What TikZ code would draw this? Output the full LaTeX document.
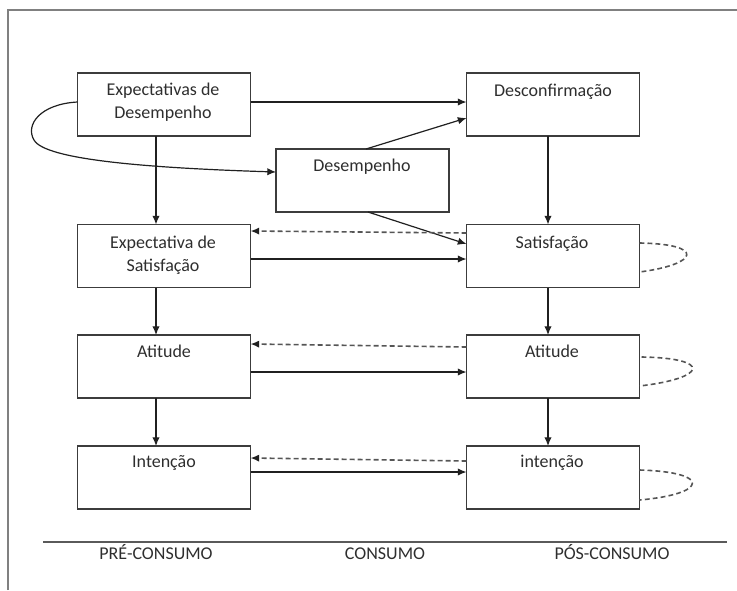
\documentclass[tikz,border=0pt]{standalone}
\usepackage{fontspec}
\setmainfont{Carlito}
\usetikzlibrary{arrows.meta,calc}
\definecolor{boxline}{HTML}{3C3C3C}
\definecolor{arrowc}{HTML}{202020}
\definecolor{dashc}{HTML}{555555}
\definecolor{framec}{HTML}{808080}
\definecolor{textc}{HTML}{2E2E2E}
\tikzset{
  box/.style={draw=boxline, line width=1.4pt, minimum width=129.75pt,
    minimum height=47.25pt, inner sep=0pt, outer sep=0pt},
  txt/.style={font=\fontsize{13.5}{17.2}\selectfont, text=textc, align=center,
    inner sep=0pt, anchor=base},
  arr/.style={draw=arrowc, line width=0.9pt,
    -{Latex[length=6.5pt,width=5.5pt]}},
  darr/.style={draw=dashc, line width=1.2pt, dash pattern=on 3.6pt off 2.4pt,
    -{Latex[length=6.5pt,width=5.5pt,fill=arrowc,color=arrowc]}},
  loopline/.style={draw=dashc, line width=1.2pt, dash pattern=on 3.6pt off 2.4pt},
  framel/.style={draw=framec, line width=1.5pt},
  axisl/.style={draw=framec!70!black, line width=1.2pt}
}
\begin{document}
\begin{tikzpicture}[x=0.75pt,y=-0.75pt]
\useasboundingbox (0,0) rectangle (737,590);

% outer frame (top and left edges)
\draw[framel] (8,590) -- (8,10) -- (737,10);

% boxes
\node[box] (ed) at (164,104.5) {};
\node[box] (dc) at (553,104.5) {};
\node[box] (dp) at (362.5,180.5) {};
\node[box] (es) at (164,256) {};
\node[box] (sa) at (553,256) {};
\node[box] (al) at (164,366.5) {};
\node[box] (ar) at (553,366.5) {};
\node[box] (il) at (164,477.5) {};
\node[box] (ir) at (553,477.5) {};

% box captions (two-line captions sit on their last baseline)
\node[txt] (ted) at (163,118) {Expectativas de\\Desempenho};
\node[txt] (tdc) at (553,96) {Desconfirmação};
\node[txt] (tdp) at (362,171) {Desempenho};
\node[txt] (tes) at (163,271) {Expectativa de\\Satisfação};
\node[txt] (tsa) at (552,248) {Satisfação};
\node[txt] (tal) at (164,357) {Atitude};
\node[txt] (tar) at (552,357) {Atitude};
\node[txt] (til) at (164,467) {Intenção};
\node[txt] (tir) at (552,467) {intenção};

% top row
\draw[arr] ($(ed.east)+(0,-2.5)$) -- ($(dc.west)+(0,-2.5)$);
\draw[arr] ($(dp.north)+(3.5,0)$) -- ($(dc.west)+(0,13.5)$);
\draw[arr] ($(ed.west)+(0,-2.5)$) .. controls (40,104) and (25,125) .. (34,140)
  .. controls (45,160) and (150,168) .. ($(dp.west)+(0,-8.5)$);
\draw[arr] ($(ed.south)+(-8,0)$) -- ($(es.north)+(-8,0)$);
\draw[arr] ($(dc.south)+(-5,0)$) -- ($(sa.north)+(-5,0)$);
\draw[arr] ($(dp.south)+(5.5,0)$) -- ($(sa.west)+(0,-12)$);

% satisfaction row
\draw[darr] ($(sa.west)+(0,-23)$) -- ($(es.east)+(0,-25)$);
\draw[arr] ($(es.east)+(0,3)$) -- ($(sa.west)+(0,3)$);
\draw[loopline] ($(sa.east)+(0,-13)$) .. controls (705,244) and (700,264) .. ($(sa.east)+(0,16)$);
\draw[arr] ($(es.south)+(-8,0)$) -- ($(al.north)+(-8,0)$);
\draw[arr] ($(sa.south)+(-5,0)$) -- ($(ar.north)+(-5,0)$);

% attitude row
\draw[darr] ($(ar.west)+(0,-19.5)$) -- ($(al.east)+(0,-22.5)$);
\draw[arr] ($(al.east)+(0,5.5)$) -- ($(ar.west)+(0,5.5)$);
\draw[loopline] ($(ar.east)+(2,-9.5)$) .. controls (712,358) and (708,378) .. ($(ar.east)+(0,19.5)$);
\draw[arr] ($(al.south)+(-8,0)$) -- ($(il.north)+(-8,0)$);
\draw[arr] ($(ar.south)+(-5,0)$) -- ($(ir.north)+(-5,0)$);

% intention row
\draw[darr] ($(ir.west)+(0,-16.5)$) -- ($(il.east)+(0,-19.5)$);
\draw[arr] ($(il.east)+(0,-5.5)$) -- ($(ir.west)+(0,-5.5)$);
\draw[loopline] ($(ir.east)+(0,-7.5)$) .. controls (712,472) and (708,494) .. ($(ir.east)+(0,22.5)$);

% time axis
\coordinate (axl) at (43,542);
\coordinate (axr) at (727,542);
\draw[axisl] (axl) -- (axr);
\node[txt] (pre) at (156,559) {PRÉ-CONSUMO};
\node[txt] (con) at (385,559) {CONSUMO};
\node[txt] (pos) at (612,559) {PÓS-CONSUMO};
\end{tikzpicture}
\end{document}
